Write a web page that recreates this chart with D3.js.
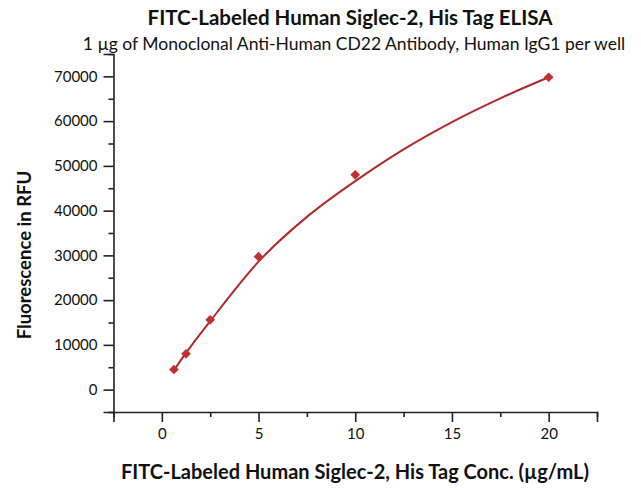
<!DOCTYPE html>
<html>
<head>
<meta charset="utf-8">
<script src="https://cdn.jsdelivr.net/npm/d3@7"></script>
<style>
  html, body { margin: 0; padding: 0; background: #fff; }
  svg { display: block; }
  text { font-family: Lato, "Open Sans", sans-serif; fill: #111; }
</style>
</head>
<body>
<svg id="chart" width="641" height="490"></svg>
<script>
// Data
const concentrations = [0.625, 1.25, 2.5, 5, 10, 20];
const rfuValues = [4500, 8000, 15600, 29700, 48000, 69800];
// fitted curve
const fitX = [0.625, 1.25, 2.5, 5, 7.5, 10, 12.5, 15, 17.5, 20];
const fitY = [4300, 8200, 15300, 28600, 38600, 46600, 53700, 59800, 65100, 69800];
const xTicks = [0, 5, 10, 15, 20];
const xMinorTicks = [-2.5, 2.5, 7.5, 12.5, 17.5, 22.5];
const yTicks = [0, 10000, 20000, 30000, 40000, 50000, 60000, 70000];
const yMinorTicks = [-5000, 5000, 15000, 25000, 35000, 45000, 55000, 65000, 75000];
const titleText = "FITC-Labeled Human Siglec-2, His Tag ELISA";
const subtitleText = "1 \u00b5g of Monoclonal Anti-Human CD22 Antibody, Human IgG1 per well";
const xLabel = "FITC-Labeled Human Siglec-2, His Tag Conc. (\u00b5g/mL)";
const yLabel = "Fluorescence in RFU";

const svg = d3.select("#chart");
const x = d3.scaleLinear().domain([-2.5, 22.5]).range([113.5, 597]);
const y = d3.scaleLinear().domain([-5000, 75000]).range([412, 54]);

const axisColor = "#222";

// X axis
const gx = svg.append("g").attr("transform", "translate(0,412)");
gx.call(d3.axisBottom(x).tickValues(xTicks).tickSize(10).tickPadding(6).tickFormat(d3.format("d")));
gx.append("g").call(d3.axisBottom(x).tickValues(xMinorTicks).tickSize(5).tickFormat(""))
  .select(".domain").remove();
gx.selectAll(".domain").attr("stroke", axisColor).attr("stroke-width", 1.6);
gx.selectAll(".tick line").attr("stroke", axisColor).attr("stroke-width", 1.6);
gx.selectAll(".tick text").style("font-size", "15px").attr("fill", "#222").style("font-family", "Lato, sans-serif");

// Y axis
const gy = svg.append("g").attr("transform", "translate(113.5,0)");
gy.call(d3.axisLeft(y).tickValues(yTicks).tickSize(10).tickPadding(6).tickFormat(d3.format("d")));
gy.append("g").call(d3.axisLeft(y).tickValues(yMinorTicks).tickSize(5).tickFormat(""))
  .select(".domain").remove();
gy.selectAll(".domain").attr("stroke", axisColor).attr("stroke-width", 1.6);
gy.selectAll(".tick line").attr("stroke", axisColor).attr("stroke-width", 1.6);
gy.selectAll(".tick text").style("font-size", "15px").attr("fill", "#222").style("font-family", "Lato, sans-serif");

// Fitted curve
const fitData = fitX.map((v, i) => [v, fitY[i]]);
svg.append("path")
  .datum(fitData)
  .attr("fill", "none")
  .attr("stroke", "#b02a2a")
  .attr("stroke-width", 2)
  .attr("d", d3.line().x(d => x(d[0])).y(d => y(d[1])).curve(d3.curveMonotoneX));

// Points
const pts = concentrations.map((v, i) => [v, rfuValues[i]]);
svg.append("g").selectAll("path")
  .data(pts)
  .join("path")
  .attr("transform", d => `translate(${x(d[0])},${y(d[1])})`)
  .attr("d", d3.symbol().type(d3.symbolDiamond2 || d3.symbolDiamond).size(60))
  .attr("fill", "#c0312f");

// Titles
svg.append("text").attr("x", 350).attr("y", 25).attr("text-anchor", "middle")
  .style("font-size", "20.5px").style("font-weight", "bold").text(titleText);
svg.append("text").attr("x", 354).attr("y", 50).attr("text-anchor", "middle")
  .style("font-size", "17.5px").text(subtitleText);

// Axis labels
svg.append("text").attr("x", 355).attr("y", 479).attr("text-anchor", "middle")
  .style("font-size", "20px").style("font-weight", "bold").text(xLabel);
svg.append("text").attr("transform", "translate(25,255) rotate(-90)").attr("text-anchor", "middle")
  .attr("dy", "0.35em")
  .style("font-size", "18.5px").style("font-weight", "bold").text(yLabel);
</script>
</body>
</html>
